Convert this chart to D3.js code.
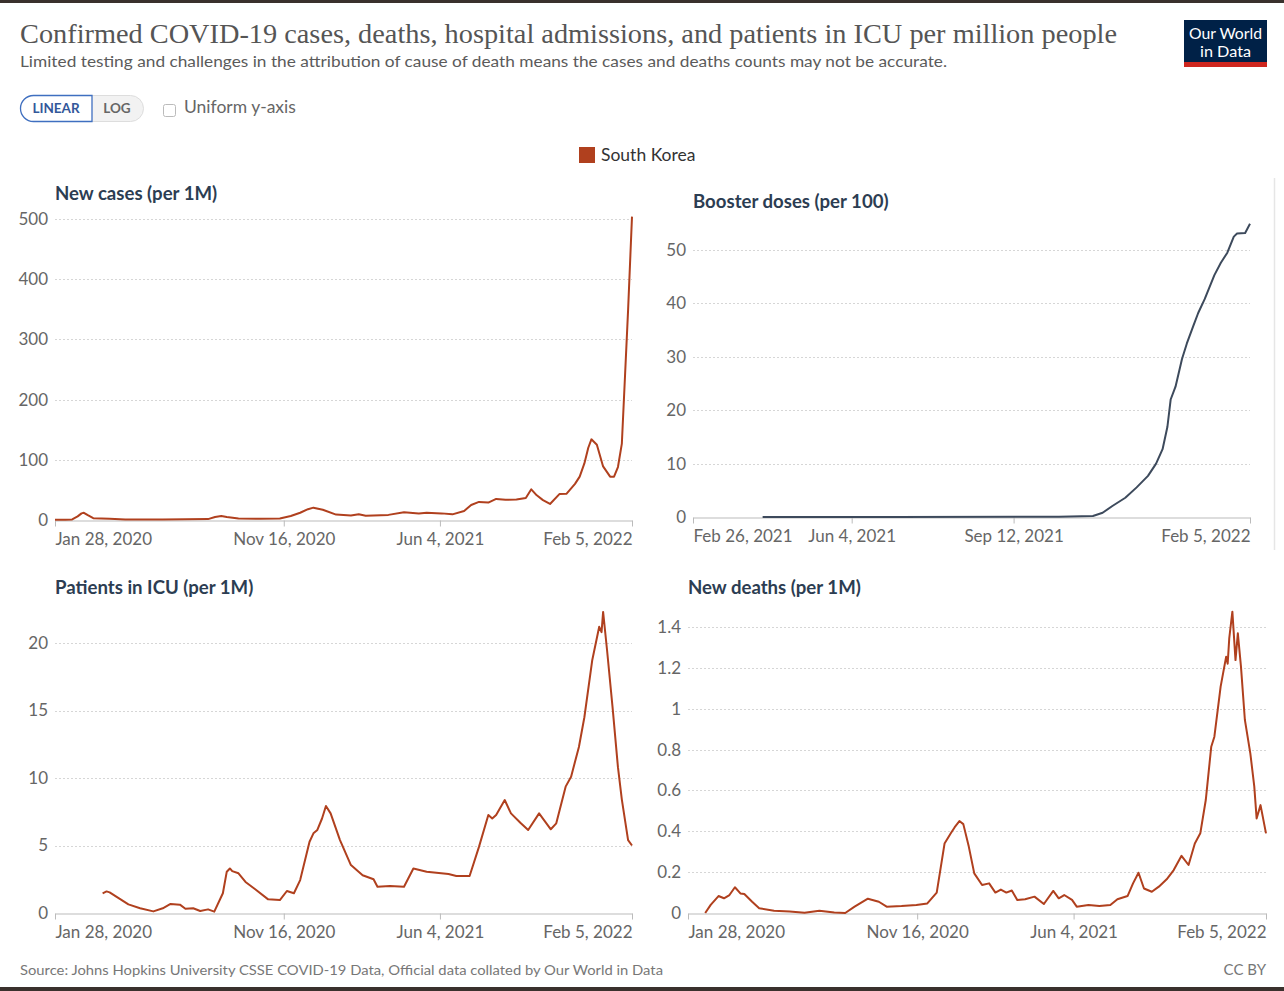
<!DOCTYPE html>
<html>
<head>
<meta charset="utf-8">
<script src="https://cdn.jsdelivr.net/npm/d3@7"></script>
<style>
  html, body { margin: 0; padding: 0; background: #fff; }
  svg { display: block; font-family: Lato, "Noto Sans", sans-serif; }
</style>
</head>
<body>
<svg id="chart" width="1284" height="991"></svg>
<script>
// ---------------- DATA ----------------
const titleText = "Confirmed COVID-19 cases, deaths, hospital admissions, and patients in ICU per million people";
const subtitleText = "Limited testing and challenges in the attribution of cause of death means the cases and deaths counts may not be accurate.";
const sourceText = "Source: Johns Hopkins University CSSE COVID-19 Data, Official data collated by Our World in Data";
const countryName = "South Korea";

const fullDomain = ["2020-01-28", "2022-02-05"];
const boosterDomain = ["2021-02-26", "2022-02-05"];
const fullTicks = ["2020-01-28", "2020-11-16", "2021-06-04", "2022-02-05"];
const boosterTicks = ["2021-02-26", "2021-06-04", "2021-09-12", "2022-02-05"];

const casesTicks = [0, 100, 200, 300, 400, 500];
const boosterYTicks = [0, 10, 20, 30, 40, 50];
const icuTicks = [0, 5, 10, 15, 20];
const deathsTicks = [0, 0.2, 0.4, 0.6, 0.8, 1, 1.2, 1.4];

const newCases = [
  ["2020-01-28",0.3],["2020-02-10",0.4],["2020-02-19",1],["2020-02-26",6],["2020-03-02",11],
  ["2020-03-05",12],["2020-03-10",8],["2020-03-17",3],["2020-04-07",2],["2020-04-27",0.8],
  ["2020-06-14",1],["2020-08-11",1.5],["2020-08-20",5],["2020-08-28",6.6],["2020-09-04",5],
  ["2020-09-19",2.5],["2020-10-17",2],["2020-11-11",2.5],["2020-11-25",6.6],["2020-12-07",12],
  ["2020-12-17",18],["2020-12-24",20.5],["2021-01-05",17],["2021-01-22",9],["2021-02-10",7.5],
  ["2021-02-20",9.5],["2021-03-01",7],["2021-03-30",8.5],["2021-04-19",12.7],["2021-05-08",11],
  ["2021-05-18",12],["2021-06-06",11],["2021-06-20",9.4],["2021-07-05",15],["2021-07-14",25],
  ["2021-07-24",30],["2021-08-05",29],["2021-08-15",35],["2021-08-27",33.5],["2021-09-10",34],
  ["2021-09-22",36.5],["2021-09-29",51],["2021-10-06",41],["2021-10-14",33],["2021-10-23",26.6],
  ["2021-11-04",43],["2021-11-13",43.5],["2021-11-24",60],["2021-11-30",72],["2021-12-06",94],
  ["2021-12-11",120],["2021-12-15",134],["2021-12-22",125],["2021-12-30",89],["2022-01-08",72],["2022-01-13",72],
  ["2022-01-18",88],["2022-01-23",127],["2022-01-27",238],["2022-01-31",349],["2022-02-05",504]
];

const boosterDoses = [
  ["2021-04-10",0],["2021-07-01",0],["2021-10-10",0.05],["2021-10-31",0.2],["2021-11-06",0.8],
  ["2021-11-12",2.06],["2021-11-20",3.6],["2021-11-27",5.55],["2021-12-04",7.7],["2021-12-09",10],
  ["2021-12-13",12.7],["2021-12-16",16.9],["2021-12-18",22],["2021-12-21",24.4],["2021-12-25",29.6],
  ["2021-12-28",32.5],["2022-01-01",35.8],["2022-01-04",38.2],["2022-01-08",40.8],["2022-01-14",45.3],
  ["2022-01-18",47.6],["2022-01-22",49.5],["2022-01-26",52.5],["2022-01-28",53.1],["2022-02-02",53.2],
  ["2022-02-05",54.9]
];

const icuPatients = [
  ["2020-03-29",1.46],["2020-04-03",1.6],["2020-04-07",1.53],["2020-04-19",1.09],["2020-05-01",0.64],
  ["2020-05-16",0.35],["2020-06-02",0.12],["2020-06-14",0.35],["2020-06-24",0.67],["2020-07-06",0.62],
  ["2020-07-13",0.32],["2020-07-23",0.35],["2020-08-01",0.15],["2020-08-11",0.27],["2020-08-19",0.1],
  ["2020-08-30",1.46],["2020-09-04",3.06],["2020-09-08",3.3],["2020-09-11",3.1],["2020-09-19",2.94],
  ["2020-09-28",2.3],["2020-10-10",1.78],["2020-10-27",1.01],["2020-11-11",0.96],["2020-11-20",1.63],
  ["2020-11-29",1.46],["2020-12-07",2.44],["2020-12-19",5.28],["2020-12-24",5.9],["2020-12-29",6.15],
  ["2021-01-04",7.0],["2021-01-09",7.93],["2021-01-15",7.38],["2021-01-27",5.4],["2021-02-10",3.55],
  ["2021-02-25",2.8],["2021-03-11",2.5],["2021-03-16",1.95],["2021-04-01",2.0],["2021-04-19",1.95],
  ["2021-05-01",3.3],["2021-05-18",3.06],["2021-06-15",2.89],["2021-06-25",2.74],["2021-07-12",2.74],
  ["2021-07-24",4.9],["2021-08-05",7.26],["2021-08-10",7.0],["2021-08-15",7.26],["2021-08-26",8.37],
  ["2021-09-03",7.38],["2021-09-15",6.69],["2021-09-25",6.15],["2021-10-09",7.38],["2021-10-24",6.2],
  ["2021-10-31",6.64],["2021-11-12",9.36],["2021-11-19",10.1],["2021-11-29",12.3],["2021-12-06",14.5],
  ["2021-12-16",18.7],["2021-12-25",21.2],["2021-12-28",20.8],["2021-12-30",22.3],["2022-01-04",19.5],
  ["2022-01-11",15.3],["2022-01-18",10.8],["2022-01-23",8.4],["2022-01-31",5.4],["2022-02-05",5.0]
];

const newDeaths = [
  ["2020-02-19",0],["2020-02-26",0.04],["2020-03-07",0.083],["2020-03-14",0.072],["2020-03-21",0.088],
  ["2020-03-28",0.126],["2020-04-04",0.096],["2020-04-09",0.093],["2020-04-19",0.055],["2020-04-28",0.023],
  ["2020-05-17",0.011],["2020-06-06",0.007],["2020-06-25",0.001],["2020-07-14",0.011],["2020-08-02",0.002],
  ["2020-08-16",0],["2020-08-28",0.031],["2020-09-14",0.07],["2020-09-28",0.055],["2020-10-08",0.031],
  ["2020-10-27",0.034],["2020-11-15",0.039],["2020-11-29",0.047],["2020-12-11",0.1],["2020-12-21",0.34],
  ["2020-12-29",0.39],["2021-01-03",0.42],["2021-01-09",0.45],["2021-01-14",0.435],["2021-01-21",0.325],
  ["2021-01-28",0.194],["2021-02-07",0.137],["2021-02-16",0.145],["2021-02-24",0.1],["2021-03-03",0.115],
  ["2021-03-10",0.1],["2021-03-17",0.11],["2021-03-24",0.064],["2021-04-03",0.067],["2021-04-15",0.08],
  ["2021-04-27",0.044],["2021-05-09",0.108],["2021-05-16",0.072],["2021-05-23",0.088],["2021-06-02",0.064],
  ["2021-06-08",0.031],["2021-06-23",0.039],["2021-07-07",0.034],["2021-07-21",0.039],["2021-07-30",0.067],
  ["2021-08-12",0.083],["2021-08-19",0.145],["2021-08-26",0.197],["2021-09-02",0.12],["2021-09-12",0.104],
  ["2021-09-21",0.129],["2021-10-01",0.165],["2021-10-10",0.21],["2021-10-20",0.28],["2021-10-29",0.235],
  ["2021-11-06",0.34],["2021-11-13",0.39],["2021-11-20",0.553],["2021-11-27",0.814],["2021-12-01",0.863],
  ["2021-12-09",1.108],["2021-12-16",1.254],["2021-12-18",1.22],["2021-12-20",1.344],["2021-12-24",1.475],
  ["2021-12-28",1.238],["2021-12-31",1.369],["2022-01-04",1.206],["2022-01-09",0.945],["2022-01-16",0.78],
  ["2022-01-21",0.62],["2022-01-24",0.463],["2022-01-29",0.528],["2022-02-05",0.39]
];

// ---------------- DRAW ----------------
const svg = d3.select("#chart");
const parse = d3.utcParse("%Y-%m-%d");
const fmtDate = d3.utcFormat("%b %-d, %Y");
const RED = "#b0401e";
const SLATE = "#3d4a5c";

// frame bands
svg.append("rect").attr("x",0).attr("y",0).attr("width",1284).attr("height",3).attr("fill","#3a312d");
svg.append("rect").attr("x",0).attr("y",987).attr("width",1284).attr("height",4).attr("fill","#3a312d");

// title
svg.append("text").attr("x",20).attr("y",43)
  .attr("font-family","'Liberation Serif','DejaVu Serif',serif").attr("font-size",27)
  .attr("fill","#555").attr("textLength",1097).attr("lengthAdjust","spacingAndGlyphs")
  .text(titleText);
svg.append("text").attr("x",20).attr("y",67)
  .attr("font-size",16).attr("fill","#5b5b5b")
  .attr("textLength",927).attr("lengthAdjust","spacingAndGlyphs")
  .text(subtitleText);

// logo
const logo = svg.append("g");
logo.append("rect").attr("x",1184).attr("y",20).attr("width",83).attr("height",47).attr("fill","#002147");
logo.append("rect").attr("x",1184).attr("y",62).attr("width",83).attr("height",5).attr("fill","#ce261e");
logo.append("text").attr("x",1225.5).attr("y",38.5).attr("text-anchor","middle").attr("fill","#fff")
  .attr("font-size",15).attr("textLength",73).attr("lengthAdjust","spacingAndGlyphs").text("Our World");
logo.append("text").attr("x",1225.5).attr("y",56.5).attr("text-anchor","middle").attr("fill","#fff")
  .attr("font-size",15).attr("textLength",51).attr("lengthAdjust","spacingAndGlyphs").text("in Data");

// controls
const ctrl = svg.append("g");
ctrl.append("rect").attr("x",20.5).attr("y",95.5).attr("width",123).attr("height",26).attr("rx",13)
  .attr("fill","#f2f2f2").attr("stroke","#ddd");
ctrl.append("path")
  .attr("d","M92,95.5 H33.5 A13,13 0 0 0 33.5,121.5 H92 Z")
  .attr("fill","#fff").attr("stroke","#3f6fc0").attr("stroke-width",1.3);
ctrl.append("text").attr("x",56).attr("y",113).attr("text-anchor","middle")
  .attr("font-size",13.5).attr("font-weight",700).attr("fill","#33589a").text("LINEAR");
ctrl.append("text").attr("x",117).attr("y",113).attr("text-anchor","middle")
  .attr("font-size",13.5).attr("font-weight",700).attr("fill","#666").text("LOG");
ctrl.append("rect").attr("x",163.5).attr("y",104.5).attr("width",12).attr("height",12).attr("rx",2)
  .attr("fill","#fff").attr("stroke","#bbb");
ctrl.append("text").attr("x",184).attr("y",113).attr("font-size",17.5).attr("fill","#666").text("Uniform y-axis");

// legend
svg.append("rect").attr("x",579).attr("y",147).attr("width",16).attr("height",16).attr("fill",RED);
svg.append("text").attr("x",601).attr("y",161).attr("font-size",17.5).attr("fill","#333").text(countryName);

// right divider next to booster panel
svg.append("line").attr("x1",1274.5).attr("x2",1274.5).attr("y1",178).attr("y2",550)
  .attr("stroke","#e6e6e6").attr("stroke-width",1.5);

function panel(cfg) {
  const g = svg.append("g");
  const x = d3.scaleUtc().domain(cfg.domain.map(parse)).range([cfg.x0, cfg.x1]);
  const y = d3.scaleLinear().domain([0, cfg.yTicks[cfg.yTicks.length - 1]]).range([cfg.y0, cfg.yTop]);

  // title
  g.append("text").attr("x",cfg.x0).attr("y",cfg.titleY).attr("font-size",18.6).attr("font-weight",700)
    .attr("fill","#2c3d52").text(cfg.title);

  // gridlines
  g.selectAll("line.grid").data(cfg.yTicks.filter(v => v > 0)).join("line")
    .attr("class","grid")
    .attr("x1",cfg.x0).attr("x2",cfg.x1)
    .attr("y1",d => Math.round(y(d)) + 0.5).attr("y2",d => Math.round(y(d)) + 0.5)
    .attr("stroke","#d6d6d6").attr("stroke-dasharray","2,2");

  // y axis labels
  const ya = g.append("g").attr("transform",`translate(${cfg.x0},0)`)
    .call(d3.axisLeft(y).tickValues(cfg.yTicks).tickSize(0).tickPadding(7).tickFormat(d => String(d)));
  ya.select(".domain").remove();
  ya.selectAll("text").attr("font-family","Lato, sans-serif").attr("font-size",17).attr("fill","#666");

  // x axis
  const xa = g.append("g").attr("transform",`translate(0,${cfg.y0 + 0.5})`)
    .call(d3.axisBottom(x).tickValues(cfg.xTicks.map(parse)).tickSize(6).tickPadding(6)
      .tickFormat(d => fmtDate(d)).tickSizeOuter(0));
  xa.select(".domain").attr("stroke","#bbb");
  xa.selectAll(".tick line").attr("stroke","#bbb");
  const n = cfg.xTicks.length;
  xa.selectAll("text").attr("font-family","Lato, sans-serif").attr("font-size",17).attr("fill","#666")
    .attr("text-anchor",(d,i) => i === 0 ? "start" : (i === n - 1 ? "end" : "middle"));

  // line
  const line = d3.line().x(d => x(parse(d[0]))).y(d => y(d[1]));
  g.append("path").datum(cfg.data).attr("d",line).attr("fill","none")
    .attr("stroke",cfg.color).attr("stroke-width",2).attr("stroke-linejoin","round");
}

panel({ title:"New cases (per 1M)", titleY:200, x0:55, x1:632, y0:520, yTop:219,
  domain:fullDomain, xTicks:fullTicks, yTicks:casesTicks, data:newCases, color:RED });
panel({ title:"Booster doses (per 100)", titleY:208, x0:693, x1:1250, y0:517, yTop:250,
  domain:boosterDomain, xTicks:boosterTicks, yTicks:boosterYTicks, data:boosterDoses, color:SLATE });
panel({ title:"Patients in ICU (per 1M)", titleY:594, x0:55, x1:632, y0:913, yTop:643,
  domain:fullDomain, xTicks:fullTicks, yTicks:icuTicks, data:icuPatients, color:RED });
panel({ title:"New deaths (per 1M)", titleY:594, x0:688, x1:1266, y0:913, yTop:627,
  domain:fullDomain, xTicks:fullTicks, yTicks:deathsTicks, data:newDeaths, color:RED });

// footer
svg.append("text").attr("x",20).attr("y",975).attr("font-size",14).attr("fill","#777")
  .attr("textLength",643).attr("lengthAdjust","spacingAndGlyphs").text(sourceText);
svg.append("text").attr("x",1266).attr("y",975).attr("text-anchor","end").attr("font-size",15)
  .attr("fill","#777").text("CC BY");
</script>
</body>
</html>
